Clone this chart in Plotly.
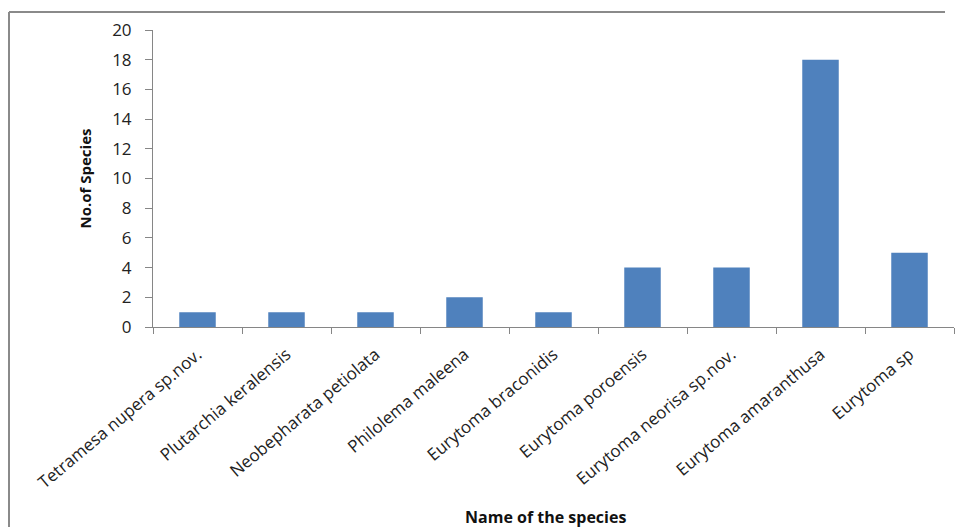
import plotly.graph_objects as go

# Species counts
species = [
    "Tetramesa nupera sp.nov.",
    "Plutarchia keralensis",
    "Neobepharata petiolata",
    "Philolema maleena",
    "Eurytoma braconidis",
    "Eurytoma poroensis",
    "Eurytoma neorisa sp.nov.",
    "Eurytoma amaranthusa",
    "Eurytoma sp",
]
counts = [1, 1, 1, 2, 1, 4, 4, 18, 5]
y_ticks = [0, 2, 4, 6, 8, 10, 12, 14, 16, 18, 20]

FONT = "Open Sans"
AXIS_GREY = "#868686"

# chart frame: left and top edges only
fx0 = (9 - 153) / 801
fx1 = (945 - 153) / 801
fy0 = (327 - 527) / 297
fy1 = (327 - 12) / 297

fig = go.Figure(
    go.Bar(
        x=species,
        y=counts,
        marker=dict(color="#4F81BD", line=dict(color="#4F81BD", width=0)),
        width=0.41,
    )
)

frame_line = dict(color="#8a8a8a", width=2)
fig.update_layout(
    width=962,
    height=527,
    margin=dict(l=153, r=8, t=30, b=200),
    paper_bgcolor="white",
    plot_bgcolor="white",
    showlegend=False,
    font=dict(family=FONT, color="#222222", size=15),
    shapes=[
        dict(type="line", xref="paper", yref="paper",
             x0=fx0, x1=fx0, y0=fy0, y1=fy1, line=frame_line, layer="below"),
        dict(type="line", xref="paper", yref="paper",
             x0=fx0, x1=fx1, y0=fy1, y1=fy1, line=frame_line, layer="below"),
    ],
    annotations=[
        dict(
            text="<b>Name of the species</b>",
            xref="paper", yref="paper",
            x=0.49, y=(327 - 517) / 297,
            xanchor="center", yanchor="middle",
            showarrow=False,
            font=dict(family=FONT, size=16, color="#111111"),
        )
    ],
)

fig.update_xaxes(
    type="category",
    showline=True, linecolor=AXIS_GREY, linewidth=1,
    ticks="outside", tickson="boundaries", ticklen=6, tickcolor=AXIS_GREY,
    tickangle=-40,
    ticklabelstandoff=10,
    tickfont=dict(family=FONT, size=17, color="#222222"),
    showgrid=False,
)

fig.update_yaxes(
    range=[0, 20],
    tickvals=y_ticks,
    showline=True, linecolor=AXIS_GREY, linewidth=1,
    ticks="outside", ticklen=7, tickcolor=AXIS_GREY,
    ticklabelstandoff=10,
    tickfont=dict(family=FONT, size=17, color="#222222"),
    showgrid=False, zeroline=False,
    title=dict(text="<b>No.of Species</b>",
               font=dict(family=FONT, size=15, color="#111111"), standoff=16),
)

fig.write_html("out.html")
